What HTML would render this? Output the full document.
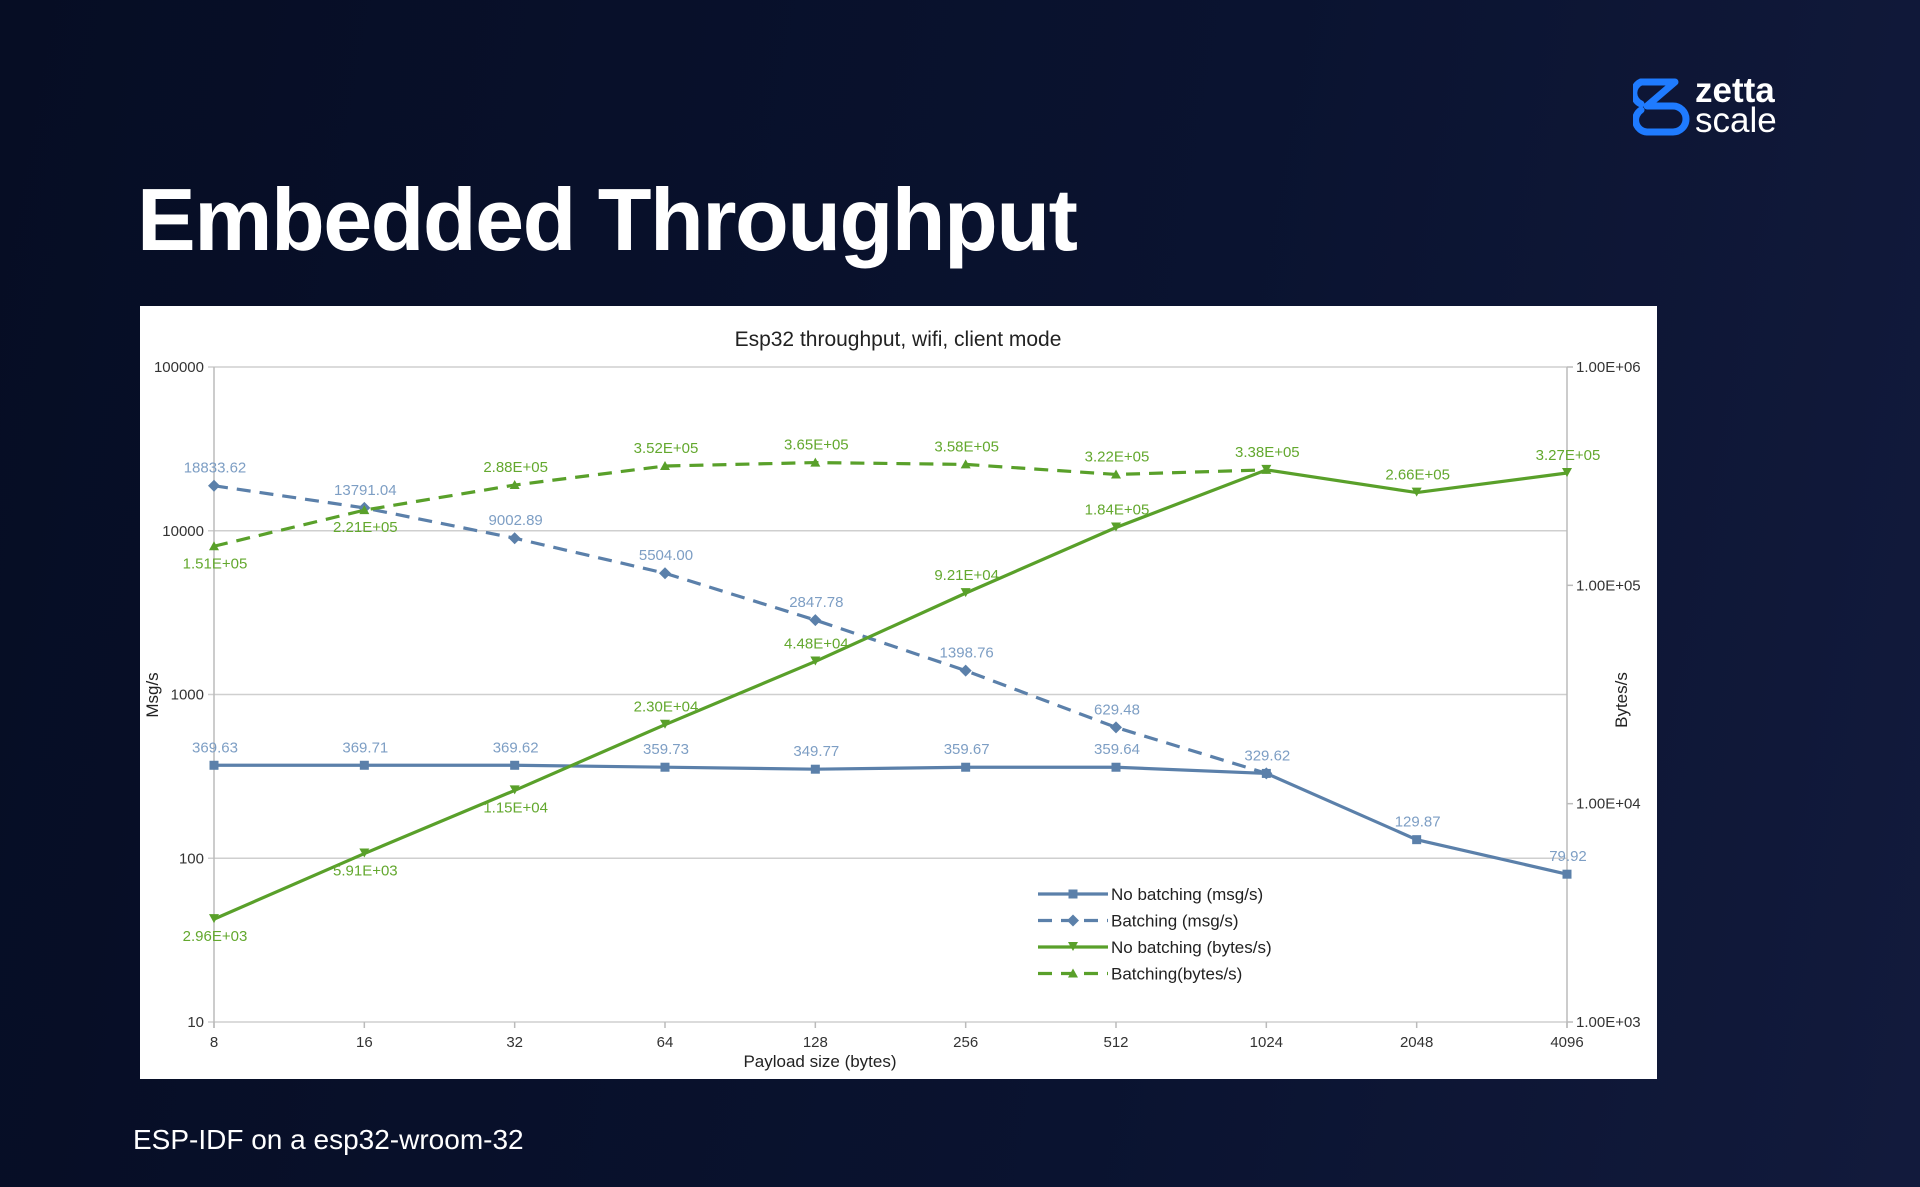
<!DOCTYPE html>
<html><head><meta charset="utf-8">
<style>
html,body{margin:0;padding:0}
body{width:1920px;height:1187px;overflow:hidden;background:linear-gradient(100deg,#060d24 0%,#0a1330 60%,#121a3c 100%);font-family:"Liberation Sans",sans-serif;position:relative}
#title{position:absolute;left:137px;top:176px;font-size:88px;font-weight:bold;color:#fff;letter-spacing:-1.5px;margin:0;line-height:1}
#footer{position:absolute;left:133px;top:1124px;font-size:28px;color:#fff}
#logo{position:absolute;left:1633px;top:74px}
#chart{position:absolute;left:140px;top:306px}
</style></head><body>
<h1 id="title">Embedded Throughput</h1>
<svg id="logo" width="180" height="64" viewBox="0 0 180 64">
  <path d="M8 8 H42 L14 32 H40 A13 13 0 0 1 40 58 H14 A12 12 0 0 1 8 36" fill="none" stroke="#1f7bff" stroke-width="7" stroke-linejoin="round" stroke-linecap="round"/>
  <path d="M8 8 A12 12 0 0 0 8 30" fill="none" stroke="#1f7bff" stroke-width="7" stroke-linecap="round"/>
  <text x="62" y="28" font-family="Liberation Sans, sans-serif" font-size="35" font-weight="bold" fill="#fff">zetta</text>
  <text x="62" y="58" font-family="Liberation Sans, sans-serif" font-size="35" fill="#fff">scale</text>
</svg>
<svg id="chart" width="1517" height="773" viewBox="0 0 1517 773"></svg>
<div id="footer">ESP-IDF on a esp32-wroom-32</div>
<script>
const categories=["8","16","32","64","128","256","512","1024","2048","4096"];
const noBatchMsg=[369.63,369.71,369.62,359.73,349.77,359.67,359.64,329.62,129.87,79.92];
const noBatchMsgLabels=["369.63","369.71","369.62","359.73","349.77","359.67","359.64","329.62","129.87","79.92"];
const batchMsg=[18833.62,13791.04,9002.89,5504.00,2847.78,1398.76,629.48,330];
const batchMsgLabels=["18833.62","13791.04","9002.89","5504.00","2847.78","1398.76","629.48",""];
const noBatchBytes=[2960,5910,11500,23000,44800,92100,184000,338000,266000,327000];
const noBatchBytesLabels=["2.96E+03","5.91E+03","1.15E+04","2.30E+04","4.48E+04","9.21E+04","1.84E+05","3.38E+05","2.66E+05","3.27E+05"];
const batchBytes=[151000,221000,288000,352000,365000,358000,322000,338000];
const batchBytesLabels=["1.51E+05","2.21E+05","2.88E+05","3.52E+05","3.65E+05","3.58E+05","3.22E+05",""];
const leftTicks=[10,100,1000,10000,100000];
const leftTickLabels=["10","100","1000","10000","100000"];
const rightTicks=[1000,10000,100000,1000000];
const rightTickLabels=["1.00E+03","1.00E+04","1.00E+05","1.00E+06"];

const NS="http://www.w3.org/2000/svg";
const svg=document.getElementById('chart');
const L=74,R=1427,T=61,B=716;
function xs(i){return L+(R-L)*i/(categories.length-1);}
function yl(v){return B-(Math.log10(v)-1)/4*(B-T);}
function yr(v){return B-(Math.log10(v)-3)/3*(B-T);}
function el(tag,attrs,parent){const e=document.createElementNS(NS,tag);for(const k in attrs)e.setAttribute(k,attrs[k]);(parent||svg).appendChild(e);return e;}
function txt(x,y,s,attrs){const e=el('text',Object.assign({x:x,y:y},attrs));e.textContent=s;return e;}

let bg=el('rect',{x:0,y:0,width:1517,height:773,fill:'#fff'});


let t=txt(758,40,"Esp32 throughput, wifi, client mode",{'text-anchor':'middle','font-size':21,fill:'#222'});



leftTicks.forEach((v,i)=>{
  const y=yl(v);
  const g=el('line',{x1:L-6,x2:R,y1:y,y2:y,stroke:'#cfcfcf','stroke-width':1.5});
  
  
  const lb=txt(L-10,y+5,leftTickLabels[i],{'text-anchor':'end','font-size':15,fill:'#333'});
  
  
});
rightTicks.forEach((v,i)=>{
  const y=yr(v);
  el('line',{x1:R,x2:R+6,y1:y,y2:y,stroke:'#bbb','stroke-width':1.5});
  const lb=txt(R+9,y+5,rightTickLabels[i],{'font-size':15,fill:'#333'});
  
  
});
el('line',{x1:L,x2:L,y1:T,y2:B+6,stroke:'#bbb','stroke-width':1.5});
el('line',{x1:R,x2:R,y1:T,y2:B+6,stroke:'#bbb','stroke-width':1.5});
categories.forEach((c,i)=>{
  const x=xs(i);
  el('line',{x1:x,x2:x,y1:B,y2:B+6,stroke:'#bbb','stroke-width':1.5});
  const lb=txt(x,B+25,c,{'text-anchor':'middle','font-size':15,fill:'#333'});
  
  
});
let xt=txt(680,761,"Payload size (bytes)",{'text-anchor':'middle','font-size':17,fill:'#222'});


let ylt=txt(0,0,"Msg/s",{'text-anchor':'middle','font-size':17,fill:'#222',transform:'translate(18,389) rotate(-90)'});


let yrt=txt(0,0,"Bytes/s",{'text-anchor':'middle','font-size':17,fill:'#222',transform:'translate(1487,394) rotate(-90)'});



const BLUE='#5b80aa',BLUEL='#7d9ec4',GREEN='#59a02a',GREENL='#63a82e';
function marker(type,x,y,color){
  if(type==='sq')return el('rect',{x:x-4.5,y:y-4.5,width:9,height:9,fill:color});
  if(type==='dia')return el('path',{d:`M${x} ${y-6}L${x+6} ${y}L${x} ${y+6}L${x-6} ${y}Z`,fill:color});
  if(type==='down')return el('path',{d:`M${x-5} ${y-5}L${x+5} ${y-5}L${x} ${y+4}Z`,fill:color});
  return el('path',{d:`M${x-5} ${y+4}L${x+5} ${y+4}L${x} ${y-5}Z`,fill:color});
}
function series(name,vals,labels,yf,color,lcolor,dash,mtype,below){
  const pts=vals.map((v,i)=>xs(i)+','+yf(v)).join(' ');
  const p=el('polyline',{points:pts,fill:'none',stroke:color,'stroke-width':3.2,'stroke-dasharray':dash||'none'});
  
  
  vals.forEach((v,i)=>{
    const m=marker(mtype,xs(i),yf(v),color);
    
    
    if(labels[i]){
      const dy=below[i]?22:-13;
      const lb=txt(xs(i)+1,yf(v)+dy,labels[i],{'text-anchor':'middle','font-size':15,fill:lcolor});
      
      
    }
  });
}
series('batching-msg',batchMsg,batchMsgLabels,yl,BLUE,BLUEL,'14,9','dia',[0,0,0,0,0,0,0,0]);
series('no-batching-msg',noBatchMsg,noBatchMsgLabels,yl,BLUE,BLUEL,null,'sq',[0,0,0,0,0,0,0,0,0,0]);
series('batching-bytes',batchBytes,batchBytesLabels,yr,GREEN,GREENL,'14,9','up',[1,1,0,0,0,0,0,0]);
series('no-batching-bytes',noBatchBytes,noBatchBytesLabels,yr,GREEN,GREENL,null,'down',[1,1,1,0,0,0,0,0,0,0]);

const legend=[["No batching (msg/s)",BLUE,null,'sq'],["Batching (msg/s)",BLUE,'14,9','dia'],["No batching (bytes/s)",GREEN,null,'down'],["Batching(bytes/s)",GREEN,'14,9','up']];
legend.forEach((e,i)=>{
  const y=588+i*26.5;
  const g=el('g',{});
  
  
  el('line',{x1:898,x2:968,y1:y,y2:y,stroke:e[1],'stroke-width':3.2,'stroke-dasharray':e[2]||'none'},g);
  marker(e[3],933,y,e[1]);
  const lb=el('text',{x:971,y:y+6,'font-size':17,fill:'#222'},g);
  lb.textContent=e[0];
});
</script>
</body></html>
